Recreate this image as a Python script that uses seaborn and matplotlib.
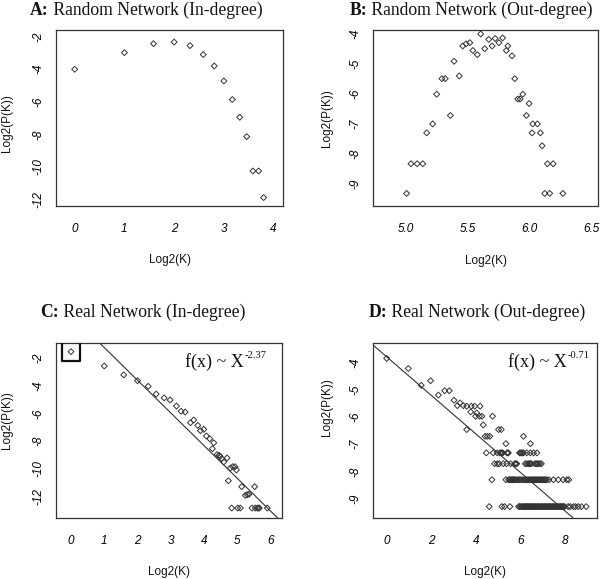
import numpy as np
import pandas as pd
import matplotlib
matplotlib.use("Agg")
import matplotlib.pyplot as plt
import seaborn as sns

# ---------------- data ----------------
# A: Random network, in-degree
a_log2k = [0.0, 1.0, 1.585, 2.0, 2.32, 2.585, 2.807, 3.0, 3.17, 3.32, 3.46, 3.585, 3.70, 3.80]
a_log2p = [-4.0, -2.98, -2.43, -2.33, -2.55, -3.10, -3.80, -4.72, -5.86, -6.95, -8.14, -10.25, -10.25, -11.88]

# B: Random network, out-degree
b_log2k = [5.005, 5.04, 5.09, 5.135, 5.167, 5.215, 5.248, 5.29, 5.317, 5.358, 5.388, 5.43,
           5.458, 5.485, 5.515, 5.54, 5.576, 5.603, 5.636, 5.668, 5.695, 5.72, 5.75, 5.78,
           5.81, 5.822, 5.856, 5.878, 5.902, 5.921, 5.943, 5.972, 5.994, 6.023, 6.018,
           6.061, 6.085, 6.099, 6.142, 6.188, 6.12, 6.16, 6.266]
b_log2p = [-9.31, -8.32, -8.32, -8.32, -7.29, -6.99, -6.0, -5.48, -5.48, -6.71, -4.9, -5.39,
           -4.39, -4.32, -4.28, -4.54, -4.68, -3.99, -4.48, -4.17, -4.39, -4.14, -4.28, -4.12,
           -4.54, -4.39, -4.72, -5.48, -6.16, -6.16, -6.0, -6.71, -6.31, -6.99, -7.29,
           -6.99, -7.29, -7.72, -8.32, -8.32, -9.31, -9.31, -9.31]

# C: Real network, in-degree
c_log2k = [0.0, 1.0, 1.585, 2.0, 2.32, 2.56, 2.80, 2.98, 3.17, 3.31, 3.43, 3.59, 3.69, 3.81,
           3.89, 3.99, 4.07, 4.17, 4.29, 4.25, 4.39, 4.45, 4.48, 4.53, 4.59, 4.69, 4.79, 4.86,
           4.93, 4.97, 4.73, 5.13, 5.52, 5.24, 5.30, 5.35,
           4.83, 5.01, 5.09, 5.44, 5.54, 5.60, 5.63, 5.66, 5.90]
c_log2p = [-1.52, -2.56, -3.20, -3.62, -4.03, -4.59, -4.87, -5.02, -5.46, -5.84, -5.89, -6.67,
           -6.47, -6.86, -7.24, -7.15, -7.63, -7.83, -8.12, -8.55, -8.98, -9.03, -9.1, -9.27,
           -9.51, -9.22, -9.95, -9.85, -9.85, -10.09, -10.87, -11.3, -11.3, -11.93, -11.88,
           -11.85, -12.85, -12.85, -12.85, -12.85, -12.85, -12.85, -12.85, -12.85, -12.85]
c_fit_slope, c_fit_intercept = -2.37, 1.15

# D: Real network, out-degree (sparse points, then the crowded rows of equal P(K))
d_log2k = [0.0, 0.97, 1.55, 1.97, 2.32, 2.60, 2.81, 3.02, 3.17, 3.29, 3.44, 3.59, 3.80, 3.95,
           4.19, 3.77, 4.04, 3.99, 4.16, 4.27, 4.75, 4.33, 3.59, 5.02, 5.14, 4.42, 4.52, 4.63,
           6.14, 5.35, 6.45]
d_log2p = [-3.84, -4.21, -4.83, -4.66, -5.19, -5.03, -5.03, -5.38, -5.58, -5.48, -5.58, -5.6,
           -5.6, -5.6, -5.6, -5.81, -5.85, -5.97, -5.97, -5.97, -5.97, -6.29, -6.46, -6.46,
           -6.46, -6.71, -6.71, -6.71, -6.71, -6.98, -6.98]
d_row_levels = [-7.32, -7.72, -8.31, -9.30]
d_row_log2k = [
    [4.47, 4.78, 4.96, 5.08, 5.13, 5.17, 5.21, 5.40, 5.43, 5.46, 5.96, 6.00, 6.04, 6.09,
     6.14, 6.29, 6.44, 6.59, 6.74],
    [4.84, 4.96, 5.05, 5.23, 5.38, 5.56, 5.75, 5.79, 5.84, 6.22, 6.29, 6.36, 6.41, 6.46,
     6.50, 6.65, 6.70, 6.75, 6.80, 6.87, 6.94],
    [4.72, 5.35, 5.47, 5.52, 5.57, 5.62, 5.66, 5.70, 5.75, 5.79, 5.85, 5.92, 5.97, 6.02,
     6.10, 6.16, 6.22, 6.27, 6.33, 6.38, 6.43, 6.49, 6.54, 6.58, 6.63, 6.68, 6.73, 6.78,
     6.84, 6.89, 6.93, 6.98, 7.03, 7.08, 7.13, 7.18, 7.28, 7.48, 7.70, 7.92, 8.08, 8.17],
    [4.60, 5.17, 5.29, 5.53, 5.92, 5.97, 6.03, 6.07, 6.11, 6.16, 6.19, 6.24, 6.28, 6.31,
     6.36, 6.41, 6.45, 6.48, 6.53, 6.58, 6.62, 6.65, 6.70, 6.75, 6.79, 6.82, 6.87, 6.92,
     6.96, 6.99, 7.04, 7.09, 7.13, 7.16, 7.21, 7.26, 7.30, 7.33, 7.38, 7.43, 7.47, 7.50,
     7.55, 7.60, 7.64, 7.67, 7.72, 7.77, 7.81, 7.84, 7.89, 7.94, 7.98, 8.14, 8.23, 8.38,
     8.47, 8.59, 8.74, 8.95],
]
d_fit_slope, d_fit_intercept = -0.71, -3.78

panel_letters = ["A:", "B:", "C:", "D:"]
panel_titles = [" Random Network (In-degree)", " Random Network (Out-degree)",
                " Real Network (In-degree)", " Real Network (Out-degree)"]
a_xticks = [0, 1, 2, 3, 4]
a_yticks = [-2, -4, -6, -8, -10, -12]
b_xticks = [5.0, 5.5, 6.0, 6.5]
b_yticks = [-4, -5, -6, -7, -8, -9]
c_xticks = [0, 1, 2, 3, 4, 5, 6]
c_yticks = [-2, -4, -6, -8, -10, -12]
d_xticks = [0, 2, 4, 6, 8]
d_yticks = [-4, -5, -6, -7, -8, -9]
fit_labels = ["-2.37", "-0.71"]

# ---------------- styling ----------------
sns.set_style("white")
plt.rcParams["font.family"] = ["Liberation Sans", "DejaVu Sans"]
INK = "#333333"
SERIF = ["Liberation Serif", "DejaVu Serif"]

fig = plt.figure(figsize=(6.0, 5.79), dpi=100)

W, H = 600.0, 579.0
def box(x0, y0, x1, y1):
    return [x0 / W, 1 - y1 / H, (x1 - x0) / W, (y1 - y0) / H]

axA = fig.add_axes(box(56, 30, 283, 206))
axB = fig.add_axes(box(373.3, 29.5, 598, 206))
axC = fig.add_axes(box(56, 342.7, 282.3, 518))
axD = fig.add_axes(box(373.3, 342.7, 597.3, 518))

dfA = pd.DataFrame({"log2k": a_log2k, "log2p": a_log2p})
dfB = pd.DataFrame({"log2k": b_log2k, "log2p": b_log2p})
dfC = pd.DataFrame({"log2k": c_log2k, "log2p": c_log2p})
d_x_all = list(d_log2k)
d_y_all = list(d_log2p)
for lvl, xs in zip(d_row_levels, d_row_log2k):
    d_x_all += xs
    d_y_all += [lvl] * len(xs)
dfD = pd.DataFrame({"log2k": d_x_all, "log2p": d_y_all})

pt_kw = dict(marker="D", s=9, color=INK, facecolor="none", edgecolor=INK,
             linewidth=0.7, legend=False, zorder=3)

specs = [
    (axA, dfA, (-0.376, 4.19), (-12.4, -1.59), a_xticks, a_yticks, ["0", "1", "2", "3", "4"]),
    (axB, dfB, (4.736, 6.55), (-9.73, -3.84), b_xticks, b_yticks, ["5.0", "5.5", "6.0", "6.5"]),
    (axC, dfC, (-0.45, 6.35), (-13.57, -0.87), c_xticks, c_yticks, [str(v) for v in c_xticks]),
    (axD, dfD, (-0.6, 9.45), (-9.72, -3.26), d_xticks, d_yticks, [str(v) for v in d_xticks]),
]

ylab_pos = [(-0.19, 0.47), (-0.18, 0.50), (-0.19, 0.56), (-0.18, 0.63)]

for i, (ax, df, xl, yl, xt, yt, xtl) in enumerate(specs):
    sns.scatterplot(data=df, x="log2k", y="log2p", ax=ax, **pt_kw)
    ax.set_xlim(*xl)
    ax.set_ylim(*yl)
    ax.set_xticks(xt)
    ax.set_xticklabels(xtl)
    ax.set_yticks(yt)
    ax.set_yticklabels([str(v) for v in yt])
    for sp in ax.spines.values():
        sp.set_visible(True)
        sp.set_color(INK)
        sp.set_linewidth(0.9)
    ax.tick_params(axis="both", direction="out", length=5, width=0.8, color=INK,
                   labelsize=8.5, labelcolor="#000000")
    ax.tick_params(axis="x", pad=7.5)
    ax.tick_params(axis="y", pad=3.5, labelrotation=90)
    for lab in ax.get_xticklabels():
        lab.set_fontstyle("italic")
    for lab in ax.get_yticklabels():
        lab.set_fontstyle("italic")
        lab.set_verticalalignment("center")
    ax.set_xlabel("Log2(K)", fontsize=8.5, color="#111111")
    ax.set_ylabel("Log2(P(K))", fontsize=8.5, color="#111111")
    ax.xaxis.set_label_coords(0.5, -0.275)
    ax.yaxis.set_label_coords(*ylab_pos[i])
    ax.grid(False)

# fitted power-law lines
axC.axline((0, c_fit_intercept), slope=c_fit_slope, color=INK, lw=0.8, zorder=2)
axD.axline((0, d_fit_intercept), slope=d_fit_slope, color=INK, lw=0.8, zorder=2)

# highlight box around the first point of panel C
axC.scatter([c_log2k[0]], [c_log2p[0]], marker="s", s=13.4 ** 2, facecolor="none",
            edgecolor="#111111", linewidth=1.6, zorder=4)

# power-law annotations
for ax, lab, xf in [(axC, fit_labels[0], 0.57), (axD, fit_labels[1], 0.603)]:
    t = ax.text(xf, 0.861, "f(x) ~ X", transform=ax.transAxes, fontsize=13,
                family=SERIF, va="baseline", ha="left", color="#111111")
    ax.annotate(lab, xy=(1, 1), xycoords=t, xytext=(0.5, 1.5), textcoords="offset points",
                fontsize=7.6, family=SERIF, va="top", ha="left", color="#111111")

# panel titles (bold letter + regular text)
title_pos = [(30 / W, 1 - 15 / H), (349.3 / W, 1 - 15 / H),
             (40 / W, 1 - 316.7 / H), (368.3 / W, 1 - 316.7 / H)]
for (tx, ty), letter, title in zip(title_pos, panel_letters, panel_titles):
    t1 = fig.text(tx, ty, letter, fontsize=12.7, family=SERIF, weight="bold",
                  va="baseline", ha="left", color="#111111")
    plt.annotate(title, xy=(1, 0), xycoords=t1, fontsize=12.7, family=SERIF,
                 va="bottom", ha="left", color="#111111", annotation_clip=False)

fig.savefig("out.png", dpi=100)
